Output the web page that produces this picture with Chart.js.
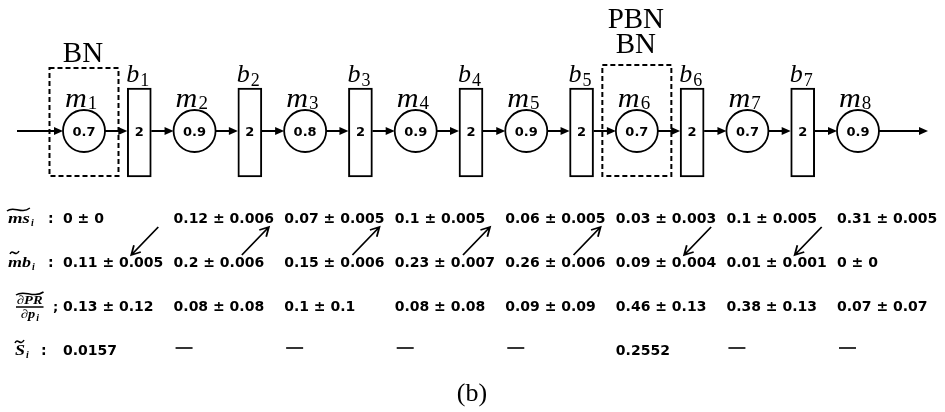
<!DOCTYPE html>
<html>
<head>
<meta charset="utf-8">
<title>Line with bottlenecks (b)</title>
<style>
html, body { margin: 0; padding: 0; background: #fff; }
#wrap { width: 945px; height: 412px; }
</style>
</head>
<body>
<div id="wrap"><canvas id="chart" width="945" height="412"></canvas></div>
<script src="https://cdn.jsdelivr.net/npm/chart.js@4/dist/chart.umd.min.js"></script>
<script>
// machines m1..m8 and the buffers b1..b7 between them
var machineNames = ['1', '2', '3', '4', '5', '6', '7', '8'];
var efficiency = [0.7, 0.9, 0.8, 0.9, 0.9, 0.7, 0.7, 0.9];
var bufferNames = ['1', '2', '3', '4', '5', '6', '7'];
var bufferCap = [2, 2, 2, 2, 2, 2, 2];

// table rows under each machine
var msMean = [0, 0.12, 0.07, 0.1, 0.06, 0.03, 0.1, 0.31];
var msErr = [0, 0.006, 0.005, 0.005, 0.005, 0.003, 0.005, 0.005];
var mbMean = [0.11, 0.2, 0.15, 0.23, 0.26, 0.09, 0.01, 0];
var mbErr = [0.005, 0.006, 0.006, 0.007, 0.006, 0.004, 0.001, 0];
var dprMean = [0.13, 0.08, 0.1, 0.08, 0.09, 0.46, 0.38, 0.07];
var dprErr = [0.12, 0.08, 0.1, 0.08, 0.09, 0.13, 0.13, 0.07];
var sens = [0.0157, null, null, null, null, 0.2552, null, null];

// bottleneck tags per machine index, top line first
var bnTags = { 0: ['BN'], 5: ['PBN', 'BN'] };
// arrow under each buffer: 1 = up to ms row, -1 = down to mb row
var bufArrow = [-1, 1, 1, 1, 1, -1, -1];

var machineX = machineNames.map(function (n, i) { return i + 1; });
var bufferX = bufferNames.map(function (n, i) { return i + 1.5; });

var LINE_Y = 131;
var BUF_TOP = 88, BUF_BOT = 177;
var ROW_Y = [223, 267, 311, 355];
var R = 21;

var SERIF = '"Liberation Serif", "Times New Roman", serif';
var SANS = '"DejaVu Sans", sans-serif';

function txt(c, s, x, y, font, align, sx) {
    c.save();
    c.font = font;
    c.textAlign = align || 'left';
    c.textBaseline = 'alphabetic';
    c.translate(x, y);
    c.scale(sx || 1, 1);
    c.fillText(s, 0, 0);
    var w = c.measureText(s).width * (sx || 1);
    c.restore();
    return w;
}

function headArrow(c, x1, y1, x2, y2) {
    var a = Math.atan2(y2 - y1, x2 - x1), L = 9, H = 4;
    c.beginPath();
    c.moveTo(x1, y1);
    c.lineTo(x2 - L * 0.7 * Math.cos(a), y2 - L * 0.7 * Math.sin(a));
    c.stroke();
    c.beginPath();
    c.moveTo(x2, y2);
    c.lineTo(x2 - L * Math.cos(a) + H * Math.sin(a), y2 - L * Math.sin(a) - H * Math.cos(a));
    c.lineTo(x2 - L * Math.cos(a) - H * Math.sin(a), y2 - L * Math.sin(a) + H * Math.cos(a));
    c.closePath();
    c.fill();
}

function openArrow(c, x1, y1, x2, y2) {
    var a = Math.atan2(y2 - y1, x2 - x1), L = 10;
    c.beginPath();
    c.moveTo(x1, y1);
    c.lineTo(x2, y2);
    c.moveTo(x2 - L * Math.cos(a - 0.5), y2 - L * Math.sin(a - 0.5));
    c.lineTo(x2, y2);
    c.lineTo(x2 - L * Math.cos(a + 0.5), y2 - L * Math.sin(a + 0.5));
    c.stroke();
}

function tilde(c, x0, y, w) {
    c.beginPath();
    c.moveTo(x0, y + 2);
    c.bezierCurveTo(x0 + w * 0.3, y - 4, x0 + w * 0.6, y + 6, x0 + w, y - 1);
    c.stroke();
}

function pm(m, e) {
    return String(m) + ' \u00b1 ' + String(e);
}

var diagram = {
    id: 'diagram',
    beforeDatasetsDraw: function (chart) {
        var c = chart.ctx, xs = chart.scales.x, ys = chart.scales.y;
        c.save();
        c.strokeStyle = '#000';
        c.fillStyle = '#000';
        c.lineWidth = 2;
        // chain arrows
        var segs = [[xs.getPixelForValue(xs.min) + 17, xs.getPixelForValue(machineX[0]) - R]];
        machineX.forEach(function (mx, i) {
            var px = xs.getPixelForValue(mx);
            if (i < bufferX.length) {
                var bx = xs.getPixelForValue(bufferX[i]);
                segs.push([px + R, bx - 12]);
                segs.push([bx + 12, xs.getPixelForValue(machineX[i + 1]) - R]);
            } else {
                segs.push([px + R, px + R + 49]);
            }
        });
        var ly = ys.getPixelForValue(LINE_Y);
        segs.forEach(function (s) { headArrow(c, s[0], ly, s[1], ly); });

        // dashed bottleneck boxes and their tags
        c.setLineDash([5, 3]);
        Object.keys(bnTags).forEach(function (k) {
            var cx = xs.getPixelForValue(machineX[k]);
            var tags = bnTags[k];
            var top = ys.getPixelForValue(tags.length > 1 ? 65 : 68), bot = ys.getPixelForValue(176);
            c.strokeRect(cx - 34.5, top, 69, bot - top);
            tags.forEach(function (t, j) {
                var base = top - 6 - (tags.length - 1) * 6 - (tags.length - 1 - j) * 25;
                txt(c, t, cx - 1, base, '29px ' + SERIF, 'center');
            });
        });
        c.restore();
    },
    afterDatasetsDraw: function (chart) {
        var c = chart.ctx, xs = chart.scales.x, ys = chart.scales.y;
        c.save();
        c.fillStyle = '#000';
        c.strokeStyle = '#000';
        var ly = ys.getPixelForValue(LINE_Y);

        machineX.forEach(function (mx, i) {
            var px = xs.getPixelForValue(mx);
            txt(c, String(efficiency[i]), px, ly + 5, 'bold 13px ' + SANS, 'center');
            var w = txt(c, 'm', px - 19, 107, 'italic 27px ' + SERIF, 'left', 1.12);
            txt(c, machineNames[i], px - 19 + w + 1, 109, '19px ' + SERIF, 'left');
        });
        bufferX.forEach(function (bxv, i) {
            var bx = xs.getPixelForValue(bxv);
            txt(c, String(bufferCap[i]), bx, ly + 5, 'bold 13px ' + SANS, 'center');
            var w = txt(c, 'b', bx - 13, 82, 'italic 26px ' + SERIF, 'left');
            txt(c, bufferNames[i], bx - 13 + w + 1, 86, '18px ' + SERIF, 'left');
        });

        // table
        var cellFont = 'bold 14px ' + SANS;
        machineX.forEach(function (mx, i) {
            var x0 = xs.getPixelForValue(mx) - R;
            txt(c, pm(msMean[i], msErr[i]), x0, ys.getPixelForValue(ROW_Y[0]), cellFont, 'left');
            txt(c, pm(mbMean[i], mbErr[i]), x0, ys.getPixelForValue(ROW_Y[1]), cellFont, 'left');
            txt(c, pm(dprMean[i], dprErr[i]), x0, ys.getPixelForValue(ROW_Y[2]), cellFont, 'left');
            if (sens[i] === null) {
                c.save();
                c.lineWidth = 1.6;
                c.beginPath();
                c.moveTo(x0 + 2, ys.getPixelForValue(ROW_Y[3]) - 7);
                c.lineTo(x0 + 19, ys.getPixelForValue(ROW_Y[3]) - 7);
                c.stroke();
                c.restore();
            } else {
                txt(c, String(sens[i]), x0, ys.getPixelForValue(ROW_Y[3]), cellFont, 'left');
            }
        });

        // arrows between ms and mb rows
        c.lineWidth = 1.8;
        bufferX.forEach(function (bxv, i) {
            var bx = xs.getPixelForValue(bxv);
            var yt = ys.getPixelForValue(227), yb = ys.getPixelForValue(255);
            if (bufArrow[i] > 0) openArrow(c, bx - 8, yb, bx + 19, yt);
            else openArrow(c, bx + 19, yt, bx - 8, yb);
        });

        // row labels
        var lf = 'bold italic 15px ' + SERIF, sf = 'bold italic 10px ' + SERIF;
        c.lineWidth = 1.5;
        var w = txt(c, 'ms', 8, ROW_Y[0], lf, 'left', 1.25);
        txt(c, 'i', 8 + w + 1, ROW_Y[0] + 3, sf);
        tilde(c, 7, ROW_Y[0] - 14, w + 1);
        txt(c, ':', 48, ROW_Y[0], 'bold 14px ' + SANS);

        w = txt(c, 'mb', 8, ROW_Y[1], lf, 'left', 1.2);
        txt(c, 'i', 8 + w + 1, ROW_Y[1] + 3, sf);
        tilde(c, 10, ROW_Y[1] - 15, 9);
        txt(c, ':', 48, ROW_Y[1], 'bold 14px ' + SANS);

        var nf = 'bold italic 12px ' + SERIF;
        w = txt(c, '\u2202PR', 17, ROW_Y[2] - 7, nf, 'left', 1.2);
        tilde(c, 16, ROW_Y[2] - 18, w + 2);
        c.beginPath();
        c.moveTo(16, ROW_Y[2] - 4);
        c.lineTo(18 + w, ROW_Y[2] - 4);
        c.stroke();
        var w2 = txt(c, '\u2202p', 21, ROW_Y[2] + 7, nf, 'left', 1.2);
        txt(c, 'i', 21 + w2 + 1, ROW_Y[2] + 10, sf);
        txt(c, ';', 53, ROW_Y[2], 'bold 13px ' + SANS);

        w = txt(c, 'S', 15, ROW_Y[3], lf, 'left', 1.2);
        txt(c, 'i', 15 + w + 1, ROW_Y[3] + 3, sf);
        tilde(c, 15, ROW_Y[3] - 14, 9);
        txt(c, ':', 41, ROW_Y[3], 'bold 14px ' + SANS);

        // caption
        txt(c, '(b)', 472, 401, '26px ' + SERIF, 'center');
        c.restore();
    }
};

new Chart(document.getElementById('chart'), {
    type: 'scatter',
    data: {
        datasets: [
            {
                type: 'bar',
                data: bufferX.map(function (x) { return { x: x, y: [BUF_TOP, BUF_BOT] }; }),
                barThickness: 24,
                backgroundColor: '#fff',
                borderColor: '#000',
                borderWidth: 2,
                borderSkipped: false
            },
            {
                type: 'scatter',
                data: machineX.map(function (x) { return { x: x, y: LINE_Y }; }),
                pointRadius: R,
                pointHoverRadius: R,
                pointBackgroundColor: '#fff',
                pointBorderColor: '#000',
                pointBorderWidth: 1.8
            }
        ]
    },
    options: {
        responsive: false,
        animation: false,
        devicePixelRatio: 1,
        events: [],
        layout: { padding: 0, autoPadding: false },
        scales: {
            x: { type: 'linear', min: 0.2403, max: 8.787, offset: false, display: false },
            y: { type: 'linear', min: 0, max: 412, reverse: true, display: false }
        },
        plugins: { legend: { display: false }, tooltip: { enabled: false } }
    },
    plugins: [diagram]
});
</script>
</body>
</html>
